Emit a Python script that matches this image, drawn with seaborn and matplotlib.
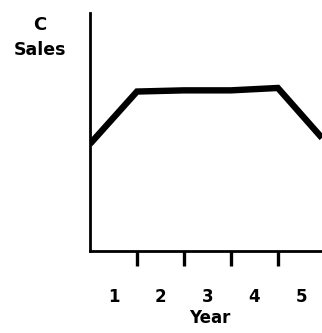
import matplotlib
matplotlib.use("Agg")
import matplotlib.pyplot as plt
import seaborn as sns
import pandas as pd

# Sales curve over the product's years
year_pos = [0.0, 1.0, 2.0, 3.0, 4.0, 4.94]
sales = [4.5, 6.7, 6.75, 6.75, 6.85, 4.75]

tick_pos = [1, 2, 3, 4]
year_label_pos = [0.5, 1.5, 2.5, 3.5, 4.5]
year_labels = ["1", "2", "3", "4", "5"]

sns.set_theme(style="white")
plt.rcParams["font.family"] = ["DejaVu Sans"]
plt.rcParams["text.color"] = "black"
plt.rcParams["xtick.color"] = "black"

df = pd.DataFrame({"Year": year_pos, "Sales": sales})

fig = plt.figure(figsize=(3.22, 3.33), dpi=100)
W, H = 322, 333
ax = fig.add_axes([90 / W, (H - 251) / H, (W - 90) / W, (251 - 13) / H])

sns.lineplot(data=df, x="Year", y="Sales", ax=ax, color="black",
             linewidth=4.6, solid_joinstyle="miter", solid_capstyle="butt")

ax.set_xlim(0, 4.94)
ax.set_ylim(0, 10)
sns.despine(ax=ax, top=True, right=True)
for side in ("left", "bottom"):
    ax.spines[side].set_linewidth(2.0)
    ax.spines[side].set_color("black")

ax.set_yticks([])
ax.set_xticks(tick_pos)
ax.set_xticklabels([])
ax.tick_params(axis="x", which="major", direction="out", length=11, width=2.4,
               color="black", bottom=True)
ax.set_xticks(year_label_pos, minor=True)
ax.set_xticklabels(year_labels, minor=True, fontsize=12, fontweight="heavy")
ax.tick_params(axis="x", which="minor", length=0, pad=27, labelcolor="black")
ax.set_xlabel("")
ax.set_ylabel("")

fig.text(210 / W, 1 - 318 / H, "Year", ha="center", va="center",
         fontsize=12, fontweight="heavy")
fig.text(40 / W, 1 - 25 / H, "C", ha="center", va="center",
         fontsize=13, fontweight="heavy")
fig.text(40 / W, 1 - 50 / H, "Sales", ha="center", va="center",
         fontsize=12.5, fontweight="heavy")

fig.savefig("out.png", dpi=100, facecolor="white")
